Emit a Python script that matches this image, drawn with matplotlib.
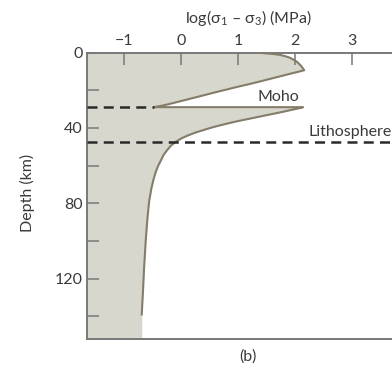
import matplotlib
matplotlib.use("Agg")
import matplotlib.pyplot as plt
import numpy as np

# ---- data ----
crust_depth = [0, 0.3, 0.8, 1.3, 2.0, 2.8, 3.8, 4.9, 6.0, 7.3, 8.5, 9.4, 10.2, 11.0, 12.0, 13.0, 14.0, 15.0, 16.3, 17.5, 18.5, 19.5, 20.5, 21.5, 22.6, 23.6, 24.6, 25.6, 26.6, 27.5, 28.3, 29.0]
crust_logs = [1.21, 1.42, 1.62, 1.74, 1.83, 1.91, 1.97, 2.03, 2.07, 2.11, 2.14, 2.16, 2.06, 1.95, 1.82, 1.69, 1.56, 1.43, 1.26, 1.09, 0.95, 0.82, 0.68, 0.55, 0.41, 0.28, 0.15, 0.02, -0.11, -0.23, -0.35, -0.48]
mantle_depth = [29.0, 29.5, 30.5, 31.5, 32.5, 33.5, 34.5, 35.5, 36.5, 37.5, 38.5, 39.7, 41.0, 42.5, 44.0, 45.5, 47.5, 49.5, 52.0, 54.5, 57.0, 60.0, 63.0, 67.0, 72.0, 79.0, 88.0, 100.0, 115.0, 128.0, 139.0]
mantle_logs = [2.14, 2.08, 1.93, 1.78, 1.62, 1.46, 1.30, 1.14, 0.98, 0.84, 0.70, 0.55, 0.41, 0.25, 0.12, 0.01, -0.10, -0.18, -0.25, -0.31, -0.35, -0.40, -0.44, -0.48, -0.52, -0.56, -0.59, -0.62, -0.65, -0.67, -0.69]
moho_depth = 29.0
litho_depth = 47.5
x_ticks = [-1, 0, 1, 2, 3]
x_labels = ['\u22121', '0', '1', '2', '3']
y_major = [0, 40, 80, 120]
y_minor = [20, 60, 100, 140]
x_range = (-1.65, 3.70)
y_range = (152, 0)

FONT = "Lato"
plt.rcParams['font.family'] = [FONT, 'DejaVu Sans']
plt.rcParams['mathtext.fontset'] = 'custom'
plt.rcParams['mathtext.rm'] = FONT
plt.rcParams['mathtext.it'] = FONT + ':italic'

line_col = '#857c6a'
fill_col = '#d8d7ce'
spine_col = '#787878'
text_col = '#3a3a3a'
FS = 11.5

fig = plt.figure(figsize=(3.92, 3.68), dpi=100)
ax = fig.add_axes([87/392, 1-339/368, 1-87/392, (339-52.5)/368])

depth = crust_depth + mantle_depth
logs = crust_logs + mantle_logs
fill_depth = depth + [y_range[0]]
fill_logs = logs + [mantle_logs[-1]]

ax.fill_betweenx(fill_depth, x_range[0], fill_logs, color=fill_col, lw=0, zorder=1)
ax.plot(logs, depth, color=line_col, lw=1.5, zorder=3, solid_joinstyle='round')

ax.plot([x_range[0], crust_logs[-1]], [moho_depth, moho_depth], color='#2a2a2a',
        lw=1.8, ls=(0, (4, 2.5)), zorder=4)
ax.plot([x_range[0], x_range[1]], [litho_depth, litho_depth], color='#2a2a2a',
        lw=1.8, ls=(0, (4, 2.5)), zorder=4)

ax.text(1.70, moho_depth - 1.8, 'Moho', ha='center', va='bottom', fontsize=FS, color=text_col)
ax.text(2.23, litho_depth - 1.8, 'Lithosphere', ha='left', va='bottom', fontsize=FS, color=text_col)

ax.set_xlim(*x_range)
ax.set_ylim(*y_range)

ax.xaxis.tick_top()
ax.set_xticks(x_ticks)
ax.set_xticklabels(x_labels)
ax.set_yticks(y_major)
ax.set_yticks(y_minor, minor=True)
ax.tick_params(axis='both', which='both', direction='in', length=8.5, width=1.1,
               color=spine_col, labelcolor=text_col, labelsize=FS, pad=3.0)

for s in ['left', 'top', 'bottom']:
    ax.spines[s].set_color(spine_col)
    ax.spines[s].set_linewidth(1.4)
ax.spines['right'].set_visible(False)

fig.text(248/392, 1-18/368, 'log($\\mathregular{\\sigma_1}$ \u2013 $\\mathregular{\\sigma_3}$) (MPa)',
         ha='center', va='center', fontsize=FS, color=text_col)
fig.text(27/392, 1-193/368, 'Depth (km)', rotation=90, ha='center', va='center',
         fontsize=FS, color=text_col)
fig.text(248/392, 1-357/368, '(b)', ha='center', va='center', fontsize=FS, color=text_col)

fig.savefig('out.png', dpi=100)
